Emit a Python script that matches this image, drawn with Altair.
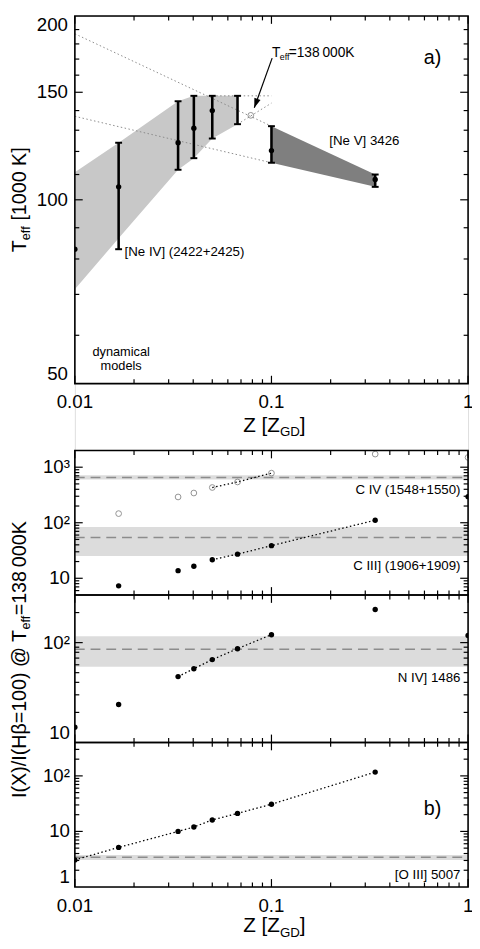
import altair as alt
import pandas as pd

FONT = "Liberation Sans"

# ------------------------------------------------------------------ data
# panel a : model effective temperatures [1000 K] versus metallicity Z [Z_GD]
NE4_Z = [0.0167, 0.0335, 0.0403, 0.05, 0.0672]
NE4_LO = [83, 112, 117, 126, 133]
NE4_HI = [124, 145, 148, 148, 148]
NE4_DOT_Z = [0.01, 0.0167, 0.0335, 0.0403, 0.05]
NE4_DOT_T = [83, 105, 124, 131, 140]
NE4_BAND_Z = [0.01, 0.0167, 0.0335, 0.0403, 0.05, 0.0672]
NE4_BAND_LO = [71.4, 86.5, 112, 117, 126, 133]
NE4_BAND_HI = [111, 124, 145, 148, 148, 148]
NE5_Z = [0.1, 0.337]
NE5_LO = [115, 105]
NE5_HI = [132, 110]
NE5_DOT = [120.4, 108]
GUIDE_Z1 = [0.01, 0.01, 0.05, 0.0672]
GUIDE_T1 = [187, 137, 148, 133]
GUIDE_Z2 = [0.1, 0.1, 0.1, 0.1]
GUIDE_T2 = [132, 115, 148, 144]
SOL_Z = [0.0785]
SOL_T = [137.5]
ARROW_Z = [0.1008, 0.0818]
ARROW_T = [170.6, 141.5]

# panel b : line intensities relative to Hbeta = 100 at Teff = 138 000 K
CIV_Z = [0.0167, 0.0335, 0.0403, 0.05, 0.0672, 0.1, 0.337, 1.0]
CIV_I = [146, 291, 343, 431, 542, 782, 1722, 1500]
CIII_Z = [0.0167, 0.0335, 0.0403, 0.05, 0.0672, 0.1, 0.337, 1.0]
CIII_I = [7.3, 13.7, 16.5, 21.6, 27.2, 38.7, 111, 295]
NIV_Z = [0.01, 0.0167, 0.0335, 0.0403, 0.05, 0.0672, 0.1, 0.337, 1.0]
NIV_I = [14.2, 24, 45.7, 54.8, 67.6, 86.9, 120, 215, 118]
OIII_Z = [0.01, 0.0167, 0.0335, 0.0403, 0.05, 0.0672, 0.1, 0.337]
OIII_I = [3.07, 5.15, 10.0, 12.0, 16.1, 21.1, 30.9, 117]
CIV_FIT = [0.05, 0.1]
CIII_FIT = [0.05, 0.337]
NIV_FIT = [0.0335, 0.1]
OIII_FIT = [0.01, 0.337]
CIV_OBS = [600, 650, 714]      # low, mean, high
CIII_OBS = [25.1, 54.4, 83.6]
NIV_OBS = [57.4, 85.7, 116]
OIII_OBS = [3.07, 3.43, 3.77]

# axes
Z_DOMAIN = [0.01, 1]
X_MAJOR = [0.01, 0.1, 1]
X_LABELS = ["0.01", "0.1", "1"]
X_MINOR = [0.02, 0.03, 0.04, 0.05, 0.06, 0.07, 0.08, 0.09,
           0.2, 0.3, 0.4, 0.5, 0.6, 0.7, 0.8, 0.9]
TA_DOMAIN = [50, 200]
TA_MAJOR = [50, 100, 150, 200]
TA_MINOR = [60, 70, 80, 90, 110, 120, 130, 140, 160, 170, 180, 190]
B1_DOMAIN = [5, 2000]
B2_DOMAIN = [10, 300]
B3_DOMAIN = [1, 400]
B1_MAJOR, B1_LABELS = [10, 100, 1000], ["10", "10\u00b2", "10\u00b3"]
B2_MAJOR, B2_LABELS = [10, 100], ["10", "10\u00b2"]
B3_MAJOR, B3_LABELS = [1, 10, 100], ["1", "10", "10\u00b2"]
DECADE_MINOR = [2, 3, 4, 5, 6, 7, 8, 9, 20, 30, 40, 50, 60, 70, 80, 90,
                200, 300, 400, 500, 600, 700, 800, 900]

# ------------------------------------------------------------------ layout
W = 400
HA, H1, H2, H3 = 374, 147, 150, 147
GAP = 68
TA_TOP = 0
B1_TOP = HA + GAP
B2_TOP = B1_TOP + H1
B3_TOP = B2_TOP + H2
HT = B3_TOP + H3
TL, TS = 8, 4.5
PAD = {"left": 68, "top": 0, "right": 4, "bottom": 55}
TITLE_X = -50
ONE = pd.DataFrame({"k": [0]})

XS = alt.Scale(type="log", domain=Z_DOMAIN, nice=False)
YA = alt.Scale(type="log", domain=TA_DOMAIN, nice=False, range=[TA_TOP + HA, TA_TOP])
Y1 = alt.Scale(type="log", domain=B1_DOMAIN, nice=False, range=[B1_TOP + H1, B1_TOP])
Y2 = alt.Scale(type="log", domain=B2_DOMAIN, nice=False, range=[B2_TOP + H2, B2_TOP])
Y3 = alt.Scale(type="log", domain=B3_DOMAIN, nice=False, range=[B3_TOP + H3, B3_TOP])

EM = {" ": 0.278, "\u2009": 0.17, "[": 0.278, "]": 0.278, "(": 0.333, ")": 0.333,
      "/": 0.278, "=": 0.584, "+": 0.584, "@": 1.015, "T": 0.611, "Z": 0.611,
      "G": 0.778, "D": 0.722, "K": 0.667, "I": 0.278, "X": 0.667, "H": 0.722,
      "\u03b2": 0.575, "e": 0.556, "f": 0.278}


def tw(s, size):
    return sum(EM.get(c, 0.556) for c in s) * size


def X(f):
    return alt.X(f, type="quantitative", scale=XS, axis=None)


def Y(f, S):
    return alt.Y(f, type="quantitative", scale=S, axis=None)


def XD(v):
    return alt.XDatum(v, type="quantitative", scale=XS, axis=None)


def YD(v, S):
    return alt.YDatum(v, type="quantitative", scale=S, axis=None)


def txt(text, size, x, y, **kw):
    props = dict(text=text, font=FONT, fontSize=size, color="black")
    props.update(kw)
    return alt.Chart(ONE).mark_text(**props).encode(x=x, y=y)


# rich-text pieces: (text, font size, baseline shift, gap before)
def vtitle(pieces, xb, yc):
    total = sum(tw(t, s) + g for t, s, _, g in pieces)
    y = yc + total / 2
    out = []
    for t, s, sh, g in pieces:
        y -= g
        out.append(txt(t, s, alt.value(xb + sh), alt.value(y), angle=270,
                       align="left", baseline="alphabetic"))
        y -= tw(t, s)
    return out


def htitle(pieces, xc, yb):
    total = sum(tw(t, s) + g for t, s, _, g in pieces)
    x = xc - total / 2
    out = []
    for t, s, sh, g in pieces:
        x += g
        out.append(txt(t, s, alt.value(x), alt.value(yb + sh),
                       align="left", baseline="alphabetic"))
        x += tw(t, s)
    return out


def frame(top, H, S, ymaj, ymin, ydom, ylabs, ypad=5, xlabels=False, title_dy=48):
    L = []
    L.append(alt.Chart(ONE).mark_rect(fillOpacity=0, stroke="black", strokeWidth=1.6)
             .encode(x=alt.value(0), x2=alt.value(W), y=alt.value(top), y2=alt.value(top + H)))
    for vals, ln in ((X_MAJOR, TL), (X_MINOR, TS)):
        d = pd.DataFrame({"z": vals})
        L.append(alt.Chart(d).mark_rule(color="black", strokeWidth=1.2)
                 .encode(x=X("z"), y=alt.value(top), y2=alt.value(top + ln)))
        L.append(alt.Chart(d).mark_rule(color="black", strokeWidth=1.2)
                 .encode(x=X("z"), y=alt.value(top + H - ln), y2=alt.value(top + H)))
    for vals, ln in ((ymaj, TL), (ymin, TS)):
        vals = [v for v in vals if ydom[0] < v < ydom[1]]
        d = pd.DataFrame({"v": vals})
        L.append(alt.Chart(d).mark_rule(color="black", strokeWidth=1.2)
                 .encode(y=Y("v", S), x=alt.value(0), x2=alt.value(ln)))
        L.append(alt.Chart(d).mark_rule(color="black", strokeWidth=1.2)
                 .encode(y=Y("v", S), x=alt.value(W - ln), x2=alt.value(W)))
    # y tick labels (flush at the ends of the range)
    d = pd.DataFrame({"v": ymaj, "lab": ylabs})
    groups = {"middle": d[(d.v > ydom[0]) & (d.v < ydom[1])],
              "bottom": d[d.v == ydom[0]], "top": d[d.v == ydom[1]]}
    for base, g in groups.items():
        if len(g):
            L.append(alt.Chart(g).mark_text(font=FONT, fontSize=19, color="black",
                                            align="right", baseline=base)
                     .encode(y=Y("v", S), x=alt.value(-ypad), text="lab:N"))
    if xlabels:
        dx = pd.DataFrame({"z": X_MAJOR, "lab": X_LABELS})
        L.append(alt.Chart(dx).mark_text(font=FONT, fontSize=19, color="black",
                                         align="center", baseline="top")
                 .encode(x=X("z"), y=alt.value(top + H + 10), text="lab:N"))
        L += htitle([("Z [Z", 21, 0, 0), ("GD", 13.5, 4.5, 0), ("]", 21, 0, 0)],
                    W / 2 + 3, top + H + title_dy)
    return L


DOT = dict(color="black", size=30, opacity=1, clip=True)
OPEN = dict(shape="circle", filled=False, stroke="#666666", strokeWidth=1, size=34, clip=True)
FITSTYLE = dict(color="black", strokeWidth=1.3, strokeDash=[1.5, 2.5], clip=True)

layers = []

# ------------------------------------------------------------------ panel a
band = pd.DataFrame({"z": NE4_BAND_Z, "lo": NE4_BAND_LO, "hi": NE4_BAND_HI})
layers.append(alt.Chart(band).mark_area(color="#c8c8c8", opacity=1, clip=True)
              .encode(x=X("z"), y=Y("hi", YA), y2="lo"))
band5 = pd.DataFrame({"z": NE5_Z, "lo": NE5_LO, "hi": NE5_HI})
layers.append(alt.Chart(band5).mark_area(color="#7f7f7f", opacity=1, clip=True)
              .encode(x=X("z"), y=Y("hi", YA), y2="lo"))
guides = pd.DataFrame({"z": GUIDE_Z1, "t": GUIDE_T1, "z2": GUIDE_Z2, "t2": GUIDE_T2})
layers.append(alt.Chart(guides).mark_rule(color="#8a8a8a", strokeWidth=1,
                                          strokeDash=[1.5, 2.5], clip=True)
              .encode(x=X("z"), y=Y("t", YA), x2="z2", y2="t2"))
err = pd.DataFrame({"z": NE4_Z + NE5_Z, "lo": NE4_LO + NE5_LO, "hi": NE4_HI + NE5_HI})
layers.append(alt.Chart(err).mark_rule(color="black", strokeWidth=2.6)
              .encode(x=X("z"), y=Y("lo", YA), y2="hi"))
for col in ("lo", "hi"):
    layers.append(alt.Chart(err).mark_point(shape="M-1,0L1,0", filled=False, color="black",
                                            strokeWidth=2, size=49, opacity=1)
                  .encode(x=X("z"), y=Y(col, YA)))
dots = pd.DataFrame({"z": NE4_DOT_Z + NE5_Z, "t": NE4_DOT_T + NE5_DOT})
layers.append(alt.Chart(dots).mark_circle(**DOT).encode(x=X("z"), y=Y("t", YA)))
sol = pd.DataFrame({"z": SOL_Z, "t": SOL_T})
layers.append(alt.Chart(sol).mark_point(**OPEN).encode(x=X("z"), y=Y("t", YA)))
arr = pd.DataFrame({"z": [ARROW_Z[0]], "t": [ARROW_T[0]], "z2": [ARROW_Z[1]], "t2": [ARROW_T[1]]})
layers.append(alt.Chart(arr).mark_rule(color="black", strokeWidth=1.2)
              .encode(x=X("z"), y=Y("t", YA), x2="z2", y2="t2"))
tip = pd.DataFrame({"z": [ARROW_Z[1]], "t": [ARROW_T[1]]})
layers.append(alt.Chart(tip).mark_point(shape="M0,0L-0.7,2L0.7,2Z", filled=True,
                                        color="black", opacity=1, size=90, angle=199.6)
              .encode(x=X("z"), y=Y("t", YA)))
ax, ay = XD(0.1006), YD(171.6, YA)
layers.append(txt("T", 14, ax, ay, align="left", baseline="alphabetic"))
layers.append(txt("eff", 9, ax, ay, align="left", baseline="alphabetic", dx=8, dy=3))
layers.append(txt("=138\u2009000K", 14, ax, ay, align="left", baseline="alphabetic", dx=17))
layers.append(txt("a)", 20, XD(0.66), YD(170.8, YA), align="center", baseline="middle"))
layers.append(txt("[Ne V] 3426", 13.5, XD(0.197), YD(124.9, YA), align="left", baseline="middle"))
layers.append(txt("[Ne IV] (2422+2425)", 13.5, XD(0.0179), YD(82.2, YA),
                  align="left", baseline="middle"))
layers.append(txt("dynamical", 13, XD(0.0172), YD(56.3, YA), align="center", baseline="middle"))
layers.append(txt("models", 13, XD(0.0172), YD(53.5, YA), align="center", baseline="middle"))
layers += vtitle([("T", 20, 0, 0), ("eff", 13, 4, 0), ("[1000 K]", 20, 0, 5.5)],
                 TITLE_X, TA_TOP + HA / 2)
layers += frame(TA_TOP, HA, YA, TA_MAJOR, TA_MINOR, TA_DOMAIN,
                [str(v) for v in TA_MAJOR], ypad=7, xlabels=True, title_dy=49)


# ------------------------------------------------------------------ panel b
def band_layers(obs, S, label, label_y):
    L = []
    L.append(alt.Chart(ONE).mark_rect(color="#dcdcdc", opacity=1)
             .encode(x=alt.value(0), x2=alt.value(W), y=YD(obs[0], S), y2=alt.datum(obs[2])))
    L.append(alt.Chart(ONE).mark_rule(color="#8c8c8c", strokeWidth=1.5, strokeDash=[10, 6])
             .encode(x=alt.value(0), x2=alt.value(W), y=YD(obs[1], S)))
    L.append(txt(label, 13.5, XD(0.915), YD(label_y, S), align="right", baseline="middle"))
    return L


def series_layers(zs, vals, fit, S, open_=False):
    d = pd.DataFrame({"z": zs, "v": vals})
    f = d[(d.z >= fit[0] - 1e-9) & (d.z <= fit[1] + 1e-9)]
    L = [alt.Chart(f).mark_line(**FITSTYLE).encode(x=X("z"), y=Y("v", S))]
    if open_:
        L.append(alt.Chart(d).mark_point(**OPEN).encode(x=X("z"), y=Y("v", S)))
    else:
        L.append(alt.Chart(d).mark_circle(**DOT).encode(x=X("z"), y=Y("v", S)))
    return L


layers += band_layers(CIV_OBS, Y1, "C IV (1548+1550)", 386)
layers += band_layers(CIII_OBS, Y1, "C III] (1906+1909)", 16.3)
layers += series_layers(CIV_Z, CIV_I, CIV_FIT, Y1, open_=True)
layers += series_layers(CIII_Z, CIII_I, CIII_FIT, Y1)
layers += frame(B1_TOP, H1, Y1, B1_MAJOR, DECADE_MINOR, B1_DOMAIN, B1_LABELS)

layers += band_layers(NIV_OBS, Y2, "N IV] 1486", 44)
layers += series_layers(NIV_Z, NIV_I, NIV_FIT, Y2)
layers += frame(B2_TOP, H2, Y2, B2_MAJOR, DECADE_MINOR, B2_DOMAIN, B2_LABELS)

layers += band_layers(OIII_OBS, Y3, "[O III] 5007", 1.67)
layers += series_layers(OIII_Z, OIII_I, OIII_FIT, Y3)
layers.append(txt("b)", 20, XD(0.66), YD(25.2, Y3), align="center", baseline="middle"))
layers += frame(B3_TOP, H3, Y3, B3_MAJOR, DECADE_MINOR, B3_DOMAIN, B3_LABELS,
                xlabels=True, title_dy=46)

layers += vtitle([("I(X)/I(H\u03b2=100) @ T", 20, 0, 0), ("eff", 13, 4, 0),
                  ("=138\u2009000K", 20, 0, 0)], TITLE_X, B2_TOP + H2 / 2 - 9)

chart = alt.layer(*layers).resolve_scale(y="independent").properties(
    width=W, height=HT,
    autosize=alt.AutoSizeParams(type="none"),
    padding=PAD,
).configure_view(stroke=None).configure(background="white")

chart.save("out.html", embed_options={"renderer": "svg", "actions": False})
